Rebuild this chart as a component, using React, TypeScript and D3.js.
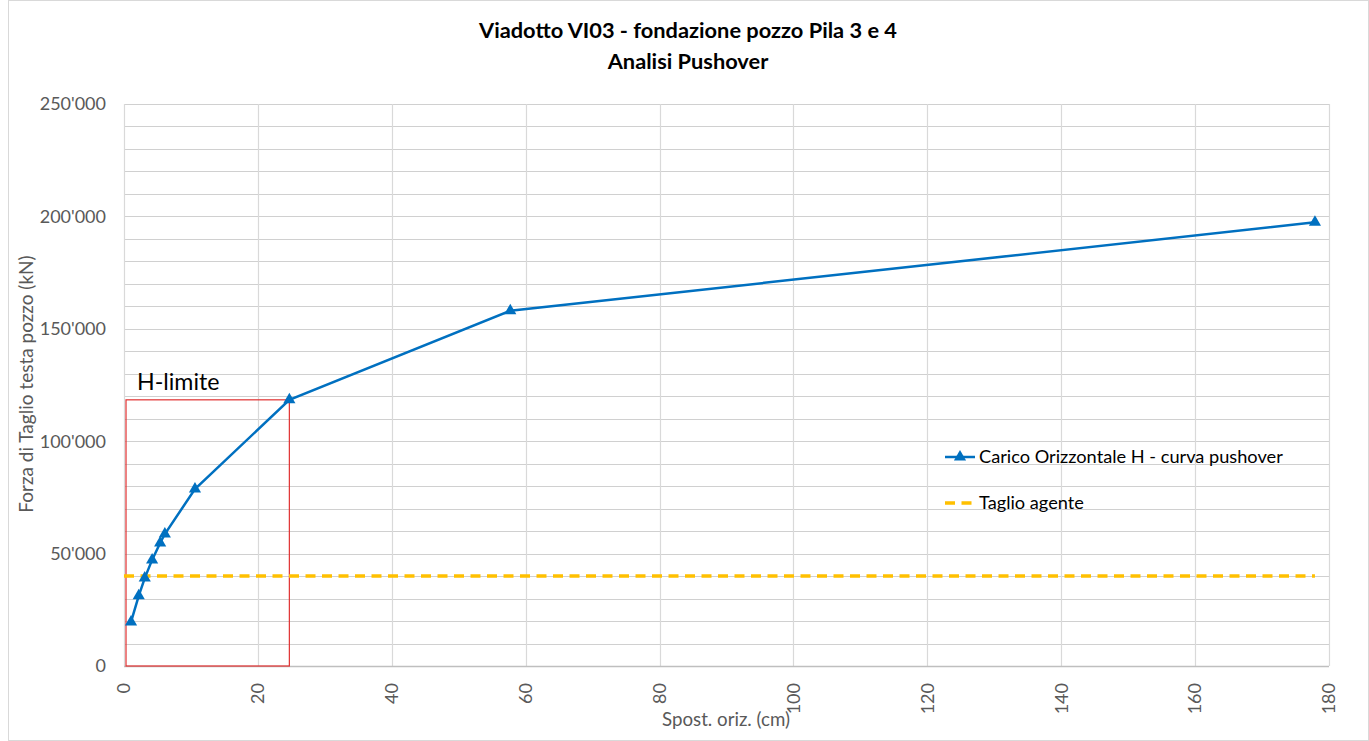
import React, { useEffect, useRef } from "react";
import * as d3 from "d3";

const displacement = [1.05, 2.2, 3.1, 4.2, 5.4, 6.1, 10.6, 24.7, 57.7, 177.9];
const force = [19600, 31200, 39100, 47200, 54700, 58700, 78700, 118400, 158000, 197400];
const designShear = 40000;
const designShearRange = [0, 177.9];
const limitBox = { x0: 0.3, x1: 24.7, y0: 0, y1: 118400 };
const xTicks = [0, 20, 40, 60, 80, 100, 120, 140, 160, 180];
const yTicks = [0, 50000, 100000, 150000, 200000, 250000];
const titleLines = ["Viadotto VI03 - fondazione pozzo Pila 3 e 4", "Analisi Pushover"];
const seriesNames = ["Carico Orizzontale H - curva pushover", "Taglio agente"];

const W = 1369, H = 741;
const M = { left: 124, right: 1329, top: 104, bottom: 666 };
const FONT = "Lato, 'Open Sans', sans-serif";

export default function App() {
  const ref = useRef<SVGSVGElement>(null);
  useEffect(() => {
    const svg = d3.select(ref.current);
    svg.selectAll("*").remove();
    const x = d3.scaleLinear().domain([0, 180]).range([M.left, M.right]);
    const y = d3.scaleLinear().domain([0, 250000]).range([M.bottom, M.top]);

    svg.append("rect").attr("x", 0).attr("y", 0).attr("width", W).attr("height", H).attr("fill", "#fff");
    svg.append("rect").attr("x", 8.5).attr("y", 0.5).attr("width", W - 9).attr("height", H - 1)
      .attr("fill", "none").attr("stroke", "#d9d9d9");

    const g = svg.append("g");
    g.selectAll("line.hy").data(d3.range(0, 250001, 10000)).join("line")
      .attr("x1", M.left).attr("x2", M.right)
      .attr("y1", d => Math.round(y(d)) + 0.5).attr("y2", d => Math.round(y(d)) + 0.5)
      .attr("stroke", "#d0d0d0").attr("stroke-width", 1.2);
    g.selectAll("line.vx").data(xTicks).join("line")
      .attr("y1", M.top).attr("y2", M.bottom)
      .attr("x1", d => Math.round(x(d)) + 0.5).attr("x2", d => Math.round(x(d)) + 0.5)
      .attr("stroke", "#d9d9d9").attr("stroke-width", 1.2);
    g.append("line").attr("x1", M.left).attr("x2", M.right).attr("y1", M.bottom + 0.5).attr("y2", M.bottom + 0.5)
      .attr("stroke", "#bfbfbf").attr("stroke-width", 1.5);

    svg.append("g").selectAll("text").data(yTicks).join("text")
      .attr("x", 106).attr("y", d => y(d)).attr("dy", "0.35em").attr("text-anchor", "end")
      .attr("font-family", FONT).attr("font-size", 18).attr("fill", "#595959")
      .text(d => d === 0 ? "0" : d3.format(",")(d).replace(/,/g, "'"));
    svg.append("g").selectAll("text").data(xTicks).join("text")
      .attr("transform", d => `translate(${x(d)},${683}) rotate(-90)`)
      .attr("dy", "0.35em").attr("text-anchor", "end")
      .attr("font-family", FONT).attr("font-size", 18).attr("fill", "#595959")
      .text(d => String(d));

    svg.append("text").attr("x", 726).attr("y", 726).attr("text-anchor", "middle")
      .attr("font-family", FONT).attr("font-size", 18.7).attr("fill", "#595959").text("Spost. oriz. (cm)");
    svg.append("text").attr("transform", `translate(33,384) rotate(-90)`)
      .attr("text-anchor", "middle")
      .attr("font-family", FONT).attr("font-size", 19).attr("fill", "#595959").text("Forza di Taglio testa pozzo (kN)");

    titleLines.forEach((t, i) => {
      svg.append("text").attr("x", 688).attr("y", 38 + i * 31).attr("text-anchor", "middle")
        .attr("font-family", FONT).attr("font-weight", "bold").attr("font-size", 21.8).attr("fill", "#000").text(t);
    });

    svg.append("rect").attr("x", x(limitBox.x0)).attr("y", y(limitBox.y1))
      .attr("width", x(limitBox.x1) - x(limitBox.x0)).attr("height", y(limitBox.y0) - y(limitBox.y1))
      .attr("fill", "none").attr("stroke", "#e03030").attr("stroke-width", 1.2);
    svg.append("text").attr("x", 137).attr("y", 390).attr("font-family", FONT).attr("font-size", 23.2)
      .attr("fill", "#000").text("H-limite");

    svg.append("line").attr("x1", x(designShearRange[0])).attr("x2", x(designShearRange[1]))
      .attr("y1", y(designShear)).attr("y2", y(designShear))
      .attr("stroke", "#FFC000").attr("stroke-width", 3.5).attr("stroke-dasharray", "10,6.5");

    const pts = displacement.map((d, i) => [d, force[i]] as [number, number]);
    const line = d3.line<[number, number]>().x(d => x(d[0])).y(d => y(d[1]));
    svg.append("path").attr("d", line(pts)).attr("fill", "none").attr("stroke", "#0070C0").attr("stroke-width", 2.5);
    const tri = d3.symbol().type(d3.symbolTriangle).size(64);
    svg.append("g").selectAll("path").data(pts).join("path")
      .attr("transform", d => `translate(${x(d[0])},${y(d[1])})`)
      .attr("d", tri()).attr("fill", "#0070C0");

    const lg = svg.append("g");
    lg.append("line").attr("x1", 945).attr("x2", 975).attr("y1", 457).attr("y2", 457)
      .attr("stroke", "#0070C0").attr("stroke-width", 2.5);
    lg.append("path").attr("transform", "translate(960,457)").attr("d", tri()).attr("fill", "#0070C0");
    lg.append("text").attr("x", 979).attr("y", 457).attr("dy", "0.35em").attr("font-family", FONT)
      .attr("font-size", 18.2).attr("fill", "#000").text(seriesNames[0]);
    lg.append("line").attr("x1", 945).attr("x2", 975).attr("y1", 503).attr("y2", 503)
      .attr("stroke", "#FFC000").attr("stroke-width", 3.5).attr("stroke-dasharray", "10,6.5");
    lg.append("text").attr("x", 979).attr("y", 503).attr("dy", "0.35em").attr("font-family", FONT)
      .attr("font-size", 18.2).attr("fill", "#000").text(seriesNames[1]);
  }, []);
  return (
    <svg ref={ref} width={W} height={H} style={{ position: "absolute", left: 0, top: 0, display: "block" }} />
  );
}
